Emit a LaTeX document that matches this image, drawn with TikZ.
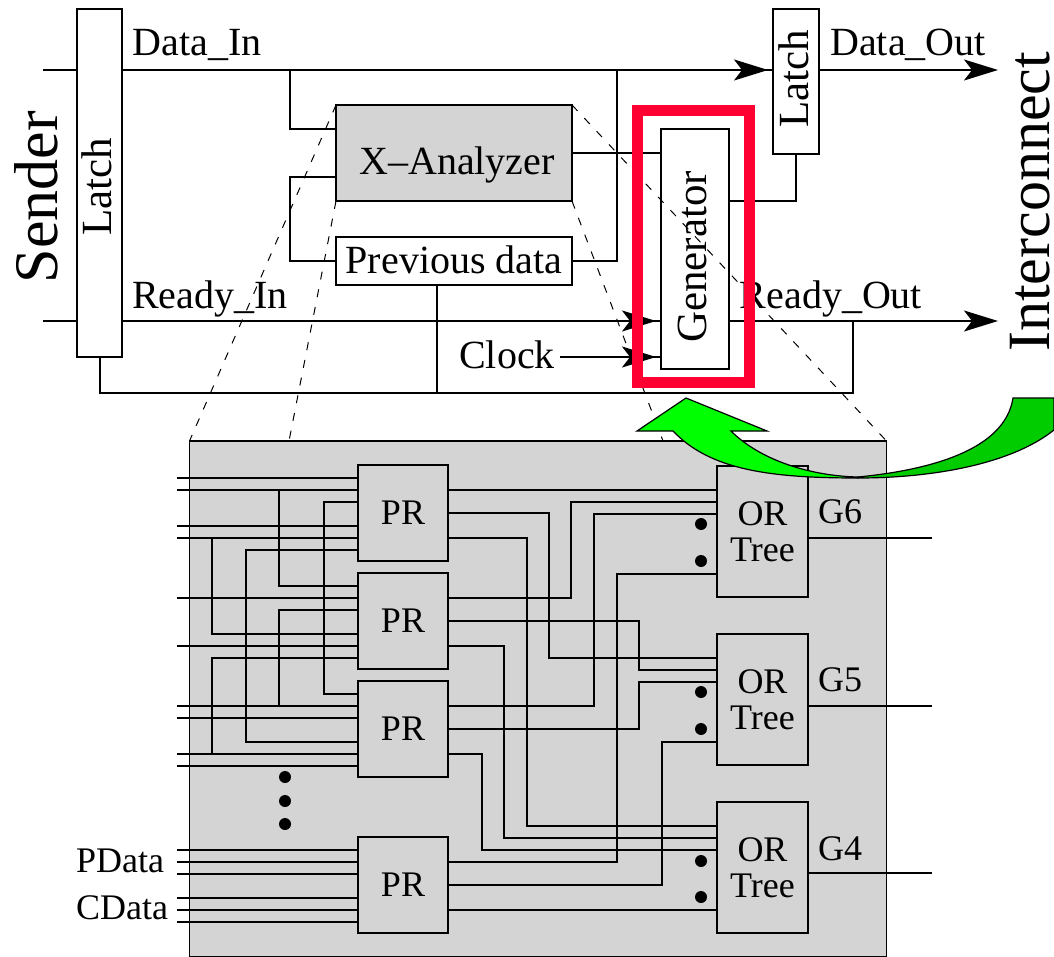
\documentclass[tikz,border=0pt]{standalone}
\usepackage{fontspec}
\setmainfont{Liberation Serif}
\usetikzlibrary{positioning,calc,arrows.meta}
\definecolor{panelgray}{gray}{0.83}
\definecolor{framered}{HTML}{FF0033}
\definecolor{arrowlight}{HTML}{00FF00}
\definecolor{arrowdark}{HTML}{00CC00}
\tikzset{
wire/.style={draw=black,line width=0.75pt},
headwire/.style={wire,-{Stealth[length=17pt,width=10.5pt,inset=4pt]}},
nearhead/.style={headwire,shorten >=2.5pt},
zoomline/.style={draw=black,line width=0.5pt,dash pattern=on 4pt off 5pt},
whitebox/.style={draw=black,line width=0.75pt,fill=white,outer sep=0pt,inner sep=0pt},
emptybox/.style={draw=black,line width=0.75pt,outer sep=0pt,inner sep=0pt},
graybox/.style={whitebox,fill=panelgray},
prbox/.style={graybox,minimum width=45pt,minimum height=48pt,font=\fontsize{18}{18}\selectfont},
orbox/.style={graybox,minimum width=45.5pt,minimum height=65.5pt,align=center,font=\fontsize{18}{18}\selectfont},
redframe/.style={draw=framered,line width=5.5pt,outer sep=0pt,inner sep=0pt},
biglab/.style={font=\fontsize{30}{30}\selectfont,inner sep=0pt},
lab/.style={font=\fontsize{20}{20}\selectfont,inner sep=0pt},
sidelab/.style={font=\fontsize{21.5}{21.5}\selectfont,inner sep=0pt},
smalllab/.style={font=\fontsize{18}{18}\selectfont,inner sep=0pt},
dot/.style={fill=black}
}
\begin{document}
\begin{tikzpicture}[x=0.5pt,y=-0.5pt]
\useasboundingbox (0,0) rectangle (1054,957);
% lower panel
\node[graybox,minimum width=348.5pt,minimum height=258pt] (panel) at (538,699) {};
\node[prbox] (pr1) at (403,513) {PR};
\node[prbox,below=6pt of pr1] (pr2) {PR};
\node[prbox,below=6pt of pr2] (pr3) {PR};
\node[prbox,below=30pt of pr3] (pr4) {PR};
\node[orbox] (or1) at (762.5,531.5) {OR\\Tree};
\node[orbox,below=18.5pt of or1] (or2) {OR\\Tree};
\node[orbox,below=18.5pt of or2] (or3) {OR\\Tree};
\node[smalllab] (pdata) at (120,861) {PData};
\node[smalllab] (cdata) at (122,908) {CData};
\node[smalllab] (g6) at (840,512) {G6};
\node[smalllab] (g5) at (840,680) {G5};
\node[smalllab] (g4) at (840,849) {G4};
% pins
\foreach \b in {1,2,3,4} {
  \foreach \k/\d in {1/13,2/25,3/37,4/61,5/73,6/85}
    \coordinate (pr\b i\k) at ($(pr\b.north west)+(0,\d)$);
  \foreach \k/\d in {1/25,2/48,3/73}
    \coordinate (pr\b o\k) at ($(pr\b.north east)+(0,\d)$);
}
\foreach \b in {1,2,3}
  \foreach \k/\d in {1/24,2/36,3/48,4/108}
    \coordinate (or\b i\k) at ($(or\b.north west)+(0,\d)$);
\coordinate (stub) at (177,441);
\foreach \c/\x in {A/212,B/246,C/279,D/324,E/482,F/504,G/527,H/549,I/571,J/594,K/617,L/639,M/662,N/932}
  \coordinate (col\c) at (\x,441);
% inputs
\foreach \b/\k in {1/1,1/2,1/4,1/5,2/2,2/5,3/2,3/3,3/5,3/6,4/1,4/2,4/3,4/4,4/5,4/6}
  \draw[wire] (stub |- pr\b i\k) -- (pr\b i\k);
\draw[wire] (pr1i2 -| colC) |- (pr2i1);
\draw[wire] (pr1i3) -| (pr3i1 -| colD) -- (pr3i1);
\draw[wire] (pr1i5 -| colA) |- (pr2i4);
\draw[wire] (pr1i6) -| (pr3i4 -| colB) -- (pr3i4);
\draw[wire] (pr2i3) -| (pr3i2 -| colC);
\draw[wire] (pr2i6) -| (pr3i5 -| colA);
% outputs
\draw[wire] (pr1o1) -- (or1i1);
\draw[wire] (pr4o3) -- (or3i4);
\foreach \p/\k/\c/\q/\m in {1/2/H/2/1,1/3/G/3/1,2/1/I/1/2,2/2/L/2/2,2/3/F/3/2,3/1/J/1/3,3/2/L/2/3,3/3/E/3/3,4/1/K/1/4,4/2/M/2/4}
  \draw[wire] (pr\p o\k) -| (or\q i\m -| col\c) -- (or\q i\m);
\foreach \b/\y in {1/538,2/706,3/873}
  \draw[wire] (or\b.east |- 0,\y) -- (colN |- 0,\y);
% dots
\foreach \x/\y in {701/524,701/561,701/692,701/729,701/861,701/897,285/777,285/801,285/824}
  \fill[dot] (\x,\y) circle (3pt);
% upper part
\node[whitebox,minimum width=22.5pt,minimum height=174pt] (latchA) at (99.5,183) {};
\node[sidelab,rotate=90] (latchAtext) at (97,187) {Latch};
\node[whitebox,minimum width=23pt,minimum height=72.5pt] (latchB) at (796,81.5) {};
\node[sidelab,rotate=90] (latchBtext) at (794,79) {Latch};
\node[graybox,minimum width=118pt,minimum height=48pt] (xana) at (454,153) {};
\node[lab] (xanatext) at (457,165) {X--Analyzer};
\node[whitebox,minimum width=118pt,minimum height=24pt] (prev) at (454,261) {};
\node[lab] (prevtext) at (454,260) {Previous data};
\node[emptybox,minimum width=34pt,minimum height=120pt] (gen) at (695,249) {};
\node[sidelab,rotate=90] (gentext) at (692,257) {Generator};
\node[lab] (datain) at (197,45) {Data\_In};
\node[lab] (readyin) at (210,299) {Ready\_In};
\node[lab] (dataout) at (908,45) {Data\_Out};
\node[lab] (readyout) at (831,299) {Ready\_Out};
\node[lab] (clock) at (507,355) {Clock};
\node[biglab,rotate=90,font=\fontsize{31}{31}\selectfont] (sender) at (36,197) {Sender};
\node[biglab,rotate=90] (interconnect) at (1030,202) {Interconnect};
\coordinate (dataStart) at (43,70);
\coordinate (readyStart) at (43,321);
\coordinate (dataEnd) at (998,70);
\coordinate (readyEnd) at (998,321);
\coordinate (branchA) at (290,70);
\coordinate (branchB) at (617,70);
\coordinate (bottomLeft) at (100,393);
\coordinate (bottomRight) at (853,393);
\coordinate (clockStart) at (560,357);
\draw[wire] (dataStart) -- (latchA.west |- dataStart);
\draw[wire] (latchA.east |- dataStart) -- (latchB.west |- dataStart);
\draw[nearhead] (latchA.east |- dataStart) -- (latchB.west |- dataStart);
\draw[headwire] (latchB.east |- dataEnd) -- (dataEnd);
\draw[wire] (readyStart) -- (latchA.west |- readyStart);
\draw[wire] (latchA.east |- readyStart) -- (gen.west |- readyStart);
\draw[nearhead] (latchA.east |- readyStart) -- (gen.west |- readyStart);
\draw[headwire] (gen.east |- readyEnd) -- (readyEnd);
\draw[wire] (clockStart) -- (gen.west |- clockStart);
\draw[nearhead] (clockStart) -- (gen.west |- clockStart);
\draw[wire] (branchA) |- (xana.west |- 0,129);
\draw[wire] (xana.west |- 0,177) -| (branchA |- prev.west) -- (prev.west);
\draw[wire] (branchB) |- (prev.east);
\draw[wire] (xana.east) -- (gen.west |- xana.east);
\draw[wire] (gen.east |- 0,201) -| (latchB.south);
\draw[wire] (prev.south -| 437,0) -- (437,393);
\draw[wire] (latchA.south -| bottomLeft) -- (bottomLeft) -- (bottomRight) -- (bottomRight |- readyEnd);
% zoom lines
\coordinate (panelB) at (289,441);
\coordinate (panelC) at (663,441);
\draw[zoomline] (xana.north west) -- (panel.north west);
\draw[zoomline] (xana.south west) -- (panelB);
\draw[zoomline] (xana.north east) -- (panel.north east);
\draw[zoomline] (xana.south east) -- (panelC);
\node[redframe,minimum width=56pt,minimum height=136pt] (genframe) at (693.5,246.5) {};
% green arrow
\fill[arrowdark,draw=black,line width=0.6pt] (858,477) .. controls (930,470) and (1005,450) .. (1013,398)
  -- (1054,398) -- (1054,430) .. controls (1010,465) and (930,478) .. (858,478) -- cycle;
\fill[arrowlight,draw=black,line width=0.6pt] (686,398) -- (767,431) -- (731,431)
  .. controls (760,460) and (810,476) .. (858,477) -- (858,478)
  .. controls (770,478) and (710,470) .. (673,431) -- (637,431) -- cycle;
\end{tikzpicture}
\end{document}
